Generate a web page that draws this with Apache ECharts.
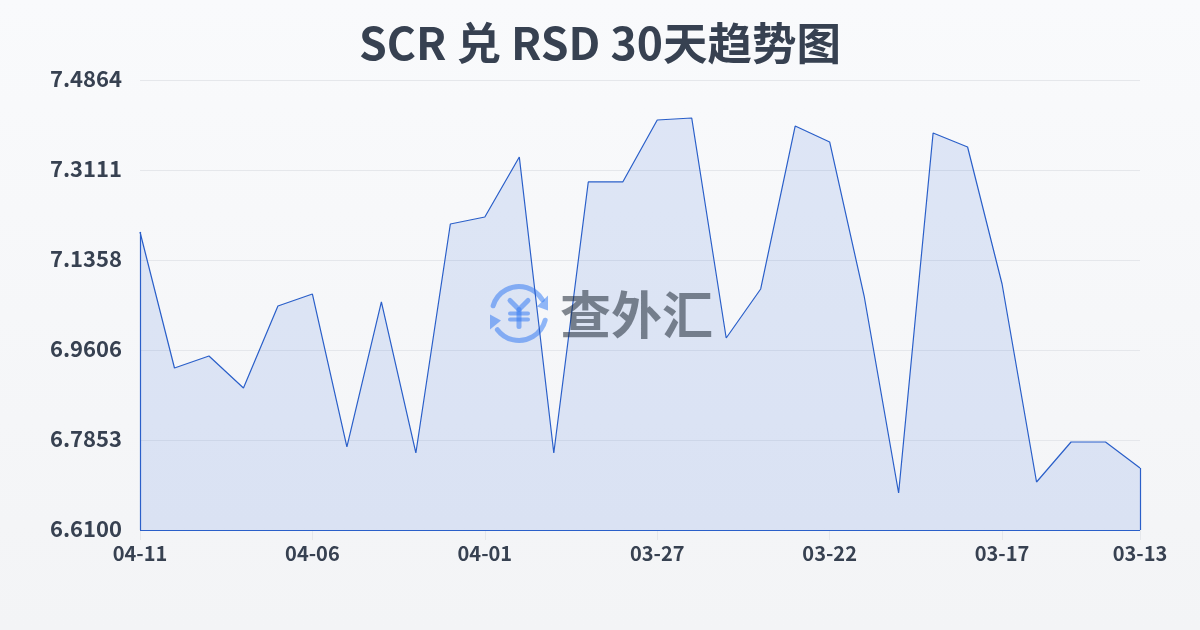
<!DOCTYPE html>
<html><head><meta charset="utf-8">
<style>html,body{margin:0;padding:0;width:1200px;height:630px;overflow:hidden}#c{width:1200px;height:630px}</style>
<script src="https://cdn.jsdelivr.net/npm/echarts@6/dist/echarts.min.js"></script>
</head><body><div id="c"></div>
<script>
const titleText = 'SCR 兑 RSD 30天趋势图';
const categories = ['04-11','04-10','04-09','04-08','04-07','04-06','04-05','04-04','04-03','04-02','04-01','03-31','03-30','03-29','03-28','03-27','03-26','03-25','03-24','03-23','03-22','03-21','03-20','03-19','03-18','03-17','03-16','03-15','03-14','03-13'];
const rates = [7.1904,6.9255,6.9489,6.8866,7.0463,7.0696,6.7717,7.0541,6.76,7.206,7.2196,7.3365,6.76,7.2878,7.2878,7.4085,7.4124,6.9839,7.0794,7.3968,7.3657,7.0657,6.6821,7.3832,7.3559,7.0891,6.7035,6.7814,6.7814,6.7307];
const yMin = 6.61, yMax = 7.4864;
const FONT = '"Noto Sans CJK SC","Noto Sans",sans-serif';
const LINE = '#2a5fc9';
const WM_BLUE = 'rgba(59,130,246,0.55)';
const lastIdx = categories.length - 1;
const chart = echarts.init(document.getElementById('c'), null, {renderer:'canvas'});
chart.setOption({
  animation:false,
  backgroundColor:new echarts.graphic.LinearGradient(0,0,0,1,[{offset:0,color:'#f9fafc'},{offset:1,color:'#f3f4f6'}]),
  title:{text:titleText,left:'center',top:16,textStyle:{fontFamily:FONT,fontSize:44.5,fontWeight:'bold',color:'#374151'}},
  grid:{left:140,right:60,top:80,bottom:100,containLabel:false},
  xAxis:{type:'category',data:categories,boundaryGap:false,
    axisLine:{show:false},
    axisTick:{show:true,length:10,alignWithLabel:true,interval:(i)=>i%5===0||i===lastIdx,lineStyle:{color:'#e5e7eb'}},
    axisLabel:{interval:(i)=>i%5===0||i===lastIdx,showMinLabel:true,showMaxLabel:true,margin:13,fontFamily:FONT,fontSize:20,fontWeight:'bold',color:'#374151'},
    splitLine:{show:false}},
  yAxis:{type:'value',min:yMin,max:yMax,interval:(yMax-yMin)/5,
    axisLine:{show:false},axisTick:{show:false},
    axisLabel:{margin:18,verticalAlign:'bottom',lineHeight:3,fontFamily:FONT,fontSize:22,fontWeight:'bold',color:'#374151',formatter:(v)=>v.toFixed(4)},
    splitLine:{show:true,lineStyle:{color:'#e5e7eb',width:1}}},
  series:[{type:'line',data:rates,symbol:'none',smooth:false,
    lineStyle:{color:LINE,width:1.2},
    areaStyle:{color:'rgba(37,99,215,0.18)',origin:'start'},z:2,
    markLine:{silent:true,symbol:'none',label:{show:false},emphasis:{disabled:true},animation:false,
      lineStyle:{color:LINE,width:1.2,type:'solid'},
      data:[
        [{coord:[0,yMin]},{coord:[lastIdx,yMin]}],
        [{coord:[0,yMin]},{coord:[0,rates[0]]}],
        [{coord:[lastIdx,yMin]},{coord:[lastIdx,rates[lastIdx]]}]
      ]}
  }],
  graphic:[
    {type:'group',left:490,top:284,z:100,silent:true,width:64,height:64,children:[
      {type:'arc',shape:{cx:32,cy:32,r:27,startAngle:-2.85,endAngle:-0.53},style:{stroke:WM_BLUE,lineWidth:5,lineCap:'round',fill:null}},
      {type:'arc',shape:{cx:32,cy:32,r:27,startAngle:0.25,endAngle:2.5},style:{stroke:WM_BLUE,lineWidth:5,lineCap:'round',fill:null}},
      {type:'polygon',shape:{points:[[61,14],[61,29],[50,25]]},style:{fill:WM_BLUE}},
      {type:'polygon',shape:{points:[[3,33],[3,48],[14,39]]},style:{fill:WM_BLUE}},
      {type:'polyline',shape:{points:[[23,19],[32,28],[41,19]]},style:{stroke:WM_BLUE,lineWidth:5,lineCap:'round',lineJoin:'round',fill:null}},
      {type:'line',shape:{x1:32,y1:28,x2:32,y2:45},style:{stroke:WM_BLUE,lineWidth:5,lineCap:'round'}},
      {type:'line',shape:{x1:23,y1:32,x2:41,y2:32},style:{stroke:WM_BLUE,lineWidth:4,lineCap:'round'}},
      {type:'line',shape:{x1:23,y1:38,x2:41,y2:38},style:{stroke:WM_BLUE,lineWidth:4,lineCap:'round'}}
    ]},
    {type:'text',left:560,top:289,z:100,silent:true,style:{text:'查外汇',fontSize:51,fontWeight:'bold',fontFamily:FONT,fill:'rgba(31,41,55,0.55)'}}
  ]
});
</script></body></html>
